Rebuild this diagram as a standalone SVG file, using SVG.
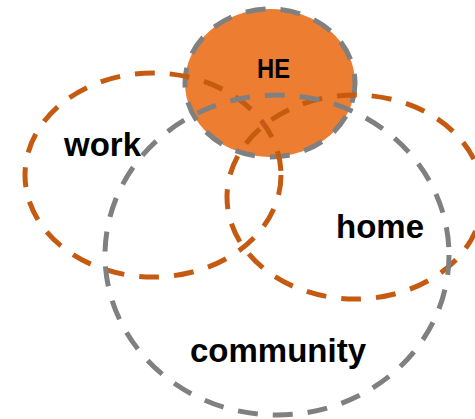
<svg xmlns="http://www.w3.org/2000/svg" width="475" height="419" viewBox="0 0 475 419">
  <style>
    .ring { fill: none; stroke-width: 5; stroke-dasharray: 20 15; }
    .orange { stroke: #C55A11; }
    .grey { stroke: #808080; }
    .label { font-family: "Liberation Sans", Arial, sans-serif; font-weight: bold; fill: #000; text-anchor: middle; }
  </style>
  <rect width="475" height="419" fill="#ffffff"/>

  <!-- filled core circle, drawn first so the other outlines pass over it -->
  <g id="he">
    <ellipse cx="270" cy="83" rx="85" ry="74" fill="#ED7D31" stroke="#808080" stroke-width="5" stroke-dasharray="20 15"/>
  </g>

  <g id="work">
    <ellipse class="ring orange" cx="153" cy="175" rx="128" ry="102"/>
    <text class="label" x="102.5" y="156" font-size="33">work</text>
  </g>

  <g id="home">
    <ellipse class="ring orange" cx="355" cy="197" rx="128" ry="102"/>
    <text class="label" x="380" y="238" font-size="33">home</text>
  </g>

  <g id="community">
    <ellipse class="ring grey" cx="277" cy="255" rx="172" ry="160"/>
    <text class="label" x="278" y="362" font-size="33">community</text>
  </g>

  <g id="he-label">
    <text class="label" x="273.5" y="78" font-size="28" textLength="33" lengthAdjust="spacingAndGlyphs">HE</text>
  </g>
</svg>
